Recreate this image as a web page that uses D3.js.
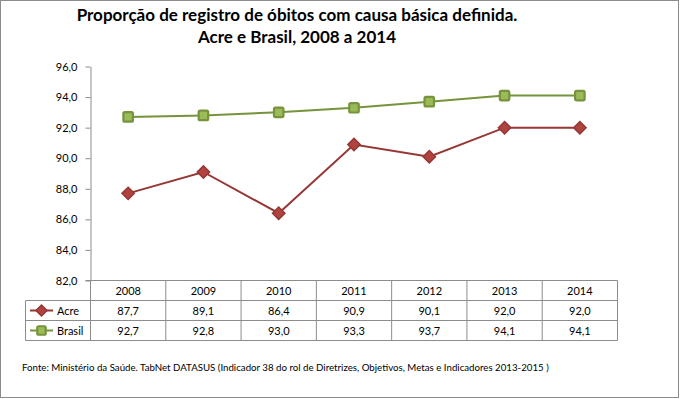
<!DOCTYPE html>
<html>
<head>
<meta charset="utf-8">
<script src="https://cdn.jsdelivr.net/npm/d3@7"></script>
<style>
  body { margin: 0; background: #fff; }
  svg text { font-family: Lato, "Open Sans", sans-serif; fill: #000; }
</style>
</head>
<body>
<svg id="chart" width="680" height="399"></svg>
<script>
// data
var years = ["2008", "2009", "2010", "2011", "2012", "2013", "2014"];
var acre = [87.7, 89.1, 86.4, 90.9, 90.1, 92.0, 92.0];
var brasil = [92.7, 92.8, 93.0, 93.3, 93.7, 94.1, 94.1];
var yTicks = [82, 84, 86, 88, 90, 92, 94, 96];
var titleLines = ["Proporção de registro de óbitos com causa básica definida.", "Acre e Brasil, 2008 a 2014"];
var fonte = "Fonte: Ministério da Saúde. TabNet DATASUS (Indicador 38 do rol de Diretrizes, Objetivos, Metas e Indicadores 2013-2015 )";

var series = [
    {name: "Acre", values: acre, line: "#953735", fill: "#B0423F", marker: "diamond"},
    {name: "Brasil", values: brasil, line: "#77933C", fill: "#9BBB59", marker: "square"}
];

var fmt = function(v){ return v.toFixed(1).replace(".", ","); };

var svg = d3.select("#chart");
var grid = "#8c8c8c";

// outer frame
svg.append("rect")
    .attr("x", 0.5).attr("y", 0.5)
    .attr("width", 678).attr("height", 397)
    .attr("fill", "#fff").attr("stroke", grid);

// title
svg.append("g").attr("class", "title")
  .selectAll("text").data(titleLines).enter().append("text")
    .attr("x", 297).attr("y", function(d, i){ return 21 + i * 22; })
    .attr("text-anchor", "middle")
    .style("font-size", "17px").style("font-weight", "bold")
    .text(function(d){ return d; });

var x = d3.scaleBand().domain(years).range([90.5, 617.5]);
var y = d3.scaleLinear().domain([82, 96]).range([280.5, 66.5]);
var cx = function(d, i){ return x(years[i]) + x.bandwidth() / 2; };

// y axis
var yAxis = svg.append("g").attr("class", "axis y")
    .attr("transform", "translate(90.5,0)")
    .call(d3.axisLeft(y).tickValues(yTicks).tickFormat(fmt).tickSize(5).tickSizeOuter(0).tickPadding(8));
yAxis.select(".domain").attr("stroke", grid);
yAxis.selectAll(".tick line").attr("stroke", grid);
yAxis.selectAll(".tick text").style("font-size", "11px").style("font-family", "Lato, sans-serif");

// data table
var rowH = 20;
var tableTop = y(82);
var legendLeft = 25.5;
var tbl = svg.append("g").attr("class", "table")
    .attr("stroke", grid).attr("fill", "none").attr("stroke-width", 1);

// horizontal lines
tbl.append("line").attr("x1", 85.5).attr("x2", x.range()[1]).attr("y1", tableTop).attr("y2", tableTop);
[1, 2, 3].forEach(function(r){
    tbl.append("line").attr("x1", legendLeft).attr("x2", x.range()[1])
        .attr("y1", tableTop + r * rowH).attr("y2", tableTop + r * rowH);
});
// vertical lines
tbl.append("line").attr("x1", legendLeft).attr("x2", legendLeft)
    .attr("y1", tableTop + rowH).attr("y2", tableTop + 3 * rowH);
years.forEach(function(yr){
    tbl.append("line").attr("x1", x(yr) + x.bandwidth()).attr("x2", x(yr) + x.bandwidth())
        .attr("y1", tableTop).attr("y2", tableTop + 3 * rowH);
});
tbl.append("line").attr("x1", x.range()[0]).attr("x2", x.range()[0])
    .attr("y1", tableTop).attr("y2", tableTop + 3 * rowH);

// header years
svg.append("g").selectAll("text").data(years).enter().append("text")
    .attr("x", function(d){ return x(d) + x.bandwidth() / 2; })
    .attr("y", tableTop + 14)
    .attr("text-anchor", "middle").style("font-size", "11px")
    .text(function(d){ return d; });

function drawMarker(g, s, size){
    if (s.marker == "diamond"){
        g.append("path")
            .attr("d", d3.symbol().type(d3.symbolSquare).size(size * 0.85)())
            .attr("fill", s.fill).attr("stroke", s.line).attr("stroke-width", 1.5)
            .attr("transform", "rotate(45)");
    } else {
        var a = Math.sqrt(size);
        g.append("rect")
            .attr("x", -a / 2).attr("y", -a / 2).attr("width", a).attr("height", a)
            .attr("rx", 1.5)
            .attr("fill", s.fill).attr("stroke", s.line).attr("stroke-width", 2.2);
    }
}

series.forEach(function(s, si){
    var rowY = tableTop + (si + 1) * rowH;

    // values row
    svg.append("g").selectAll("text").data(s.values).enter().append("text")
        .attr("x", cx)
        .attr("y", rowY + 14)
        .attr("text-anchor", "middle").style("font-size", "11px")
        .text(fmt);

    // legend key
    var key = svg.append("g").attr("transform", "translate(0," + (rowY + rowH / 2) + ")");
    key.append("line").attr("x1", 30).attr("x2", 53).attr("y1", 0).attr("y2", 0)
        .attr("stroke", s.line).attr("stroke-width", 2);
    var km = key.append("g").attr("transform", "translate(41.5,0)");
    drawMarker(km, s, 72);
    key.append("text").attr("x", 57).attr("y", 4).style("font-size", "11px").text(s.name);

    // line
    svg.append("path")
        .datum(s.values)
        .attr("fill", "none").attr("stroke", s.line).attr("stroke-width", 2)
        .attr("d", d3.line().x(cx).y(function(d){ return y(d); }));

    // markers
    svg.append("g").selectAll("g").data(s.values).enter().append("g")
        .attr("transform", function(d, i){ return "translate(" + cx(d, i) + "," + y(d) + ")"; })
        .each(function(){ drawMarker(d3.select(this), s, 90); });
});

// source note
svg.append("text")
    .attr("x", 22).attr("y", 371)
    .style("font-size", "9.7px")
    .text(fonte);
</script>
</body>
</html>
